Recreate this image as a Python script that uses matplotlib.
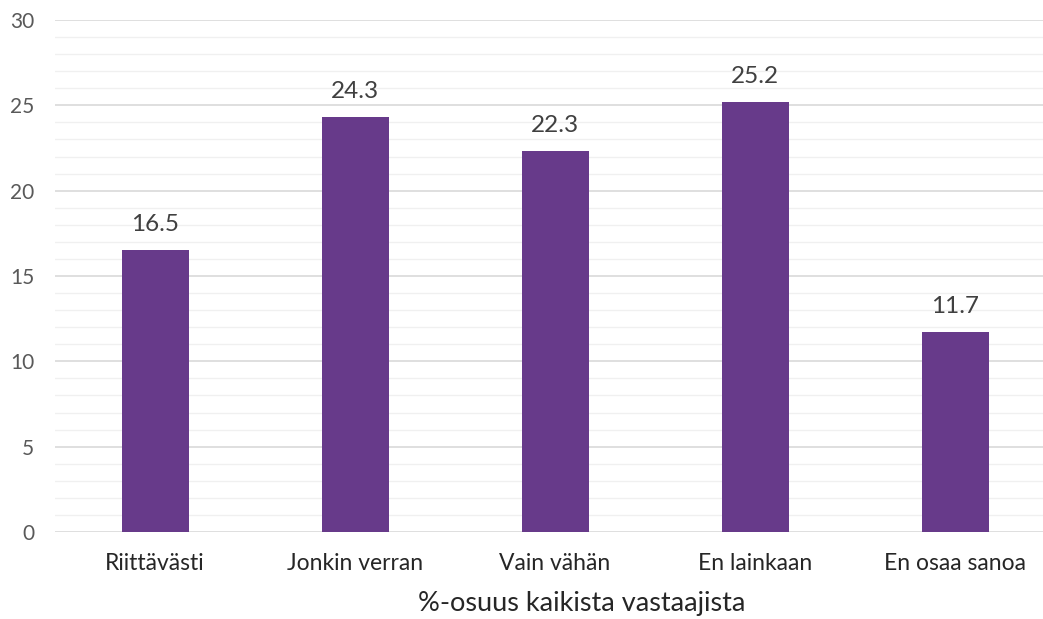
import matplotlib
matplotlib.use("Agg")
import matplotlib.pyplot as plt
from matplotlib.ticker import MultipleLocator

categories = ["Riittävästi", "Jonkin verran", "Vain vähän", "En lainkaan", "En osaa sanoa"]
values = [16.5, 24.3, 22.3, 25.2, 11.7]
yticks = [0, 5, 10, 15, 20, 25, 30]

plt.rcParams['font.family'] = ['Lato', 'DejaVu Sans']

fig = plt.figure(figsize=(10.43, 6.19), dpi=100)
ax = fig.add_axes([55/1043, 87/619, 1000/1043, 512/619])

x = list(range(len(categories)))
ax.bar(x, values, width=0.335, color="#673A8A", zorder=3)
for xi, v in zip(x, values):
    ax.annotate(f"{v:.1f}", (xi, v), xytext=(0, 11), textcoords="offset points",
                ha="center", va="bottom", fontsize=17.5, color="#404040")

ax.set_xlim(-0.5, len(categories) - 0.5)
ax.set_ylim(0, 30)
ax.set_yticks(yticks)
ax.yaxis.set_minor_locator(MultipleLocator(1))
ax.grid(axis="y", which="major", color="#D9D9D9", linewidth=1.2, zorder=0)
ax.grid(axis="y", which="minor", color="#F0F0F0", linewidth=1.0, zorder=0)
ax.set_xticks(x)
ax.set_xticklabels(categories, fontsize=16.5, color="#262626")
ax.tick_params(axis="y", labelsize=15, colors="#595959", length=0, pad=15, which="both")
ax.tick_params(axis="x", length=0, pad=15)
for s in ax.spines.values():
    s.set_visible(False)
ax.set_xlabel("%-osuus kaikista vastaajista", fontsize=19.5, color="#262626", labelpad=12)
ax.xaxis.set_label_coords(0.527, -0.115)

fig.savefig("out.png", dpi=100)
